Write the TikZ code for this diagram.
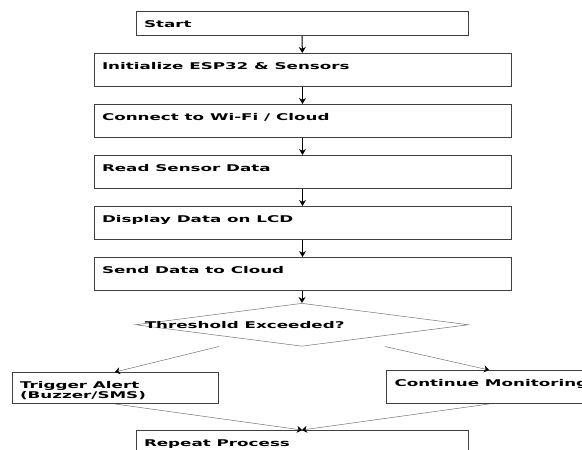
\documentclass[tikz,border=0pt]{standalone}
\usepackage{fontspec}
\setmainfont{DejaVu Sans}[FakeStretch=1.8]
\usetikzlibrary{arrows.meta,positioning,shapes.geometric}

\begin{document}
\begin{tikzpicture}[x=1pt,y=-1pt,>={Stealth[length=6pt,width=7pt]},
    node distance=17pt,
    every node/.style={font=\fontsize{9.3}{10.5}\selectfont\bfseries},
    stepbox/.style={draw=black!75, line width=1pt, rectangle, align=flush left,
      inner xsep=8pt, inner ysep=4pt, text height=11.5pt, text depth=13.5pt,
      text width=#1-16pt},
    stepbox/.default=417pt,
    flow/.style={->, black, line width=1pt},
    branch/.style={-{Stealth[black,length=5pt,width=7pt]}, draw=black!55, line width=0.5pt}]

  \useasboundingbox (0,0) rectangle (582,450);

  \node[stepbox=332pt, text depth=4.5pt, anchor=north] (start) at (302,11) {Start};
  \node[stepbox, anchor=north] (init) at (302.5,53) {Initialize ESP32 \& Sensors};
  \node[stepbox] (connect) [below=of init] {Connect to Wi-Fi / Cloud};
  \node[stepbox] (read) [below=of connect] {Read Sensor Data};
  \node[stepbox] (display) [below=of read] {Display Data on LCD};
  \node[stepbox] (send) [below=of display] {Send Data to Cloud};

  \node[diamond, draw=black!55, line width=0.5pt, inner sep=0pt,
        minimum width=333pt, minimum height=43pt, anchor=north,
        label={[anchor=west, xshift=6pt]west:Threshold Exceeded?}] (check) at (302,303) {};

  \node[stepbox=206pt, text depth=11.5pt, anchor=north] (alert) at (115,372) {Trigger Alert\\(Buzzer/SMS)};
  % right edge runs off the page, as in the original
  \node[stepbox=280pt, anchor=north west] (monitor) at (386,370) {Continue Monitoring};
  \node[stepbox=332pt, anchor=north] (repeat) at (302,430) {Repeat Process};

  \coordinate (alertout) at ([xshift=-83pt]check.south);
  \coordinate (monitorout) at ([xshift=83pt]check.south);
  \coordinate (monitorin) at ([xshift=103pt]monitor.north west);
  \coordinate (monitorbot) at ([xshift=103pt]monitor.south west);

  \path[flow]
    (start) edge (init)
    (init) edge (connect)
    (connect) edge (read)
    (read) edge (display)
    (display) edge (send)
    (send.south -| check.north) edge (check.north);

  % branches and merge
  \draw[branch] (alertout) -- (alert.north);
  \draw[branch] (monitorout) -- (monitorin);
  \draw[branch] (alert.south) -- (repeat.north);
  \draw[branch] (monitorbot) -- (repeat.north);

\end{tikzpicture}
\end{document}
